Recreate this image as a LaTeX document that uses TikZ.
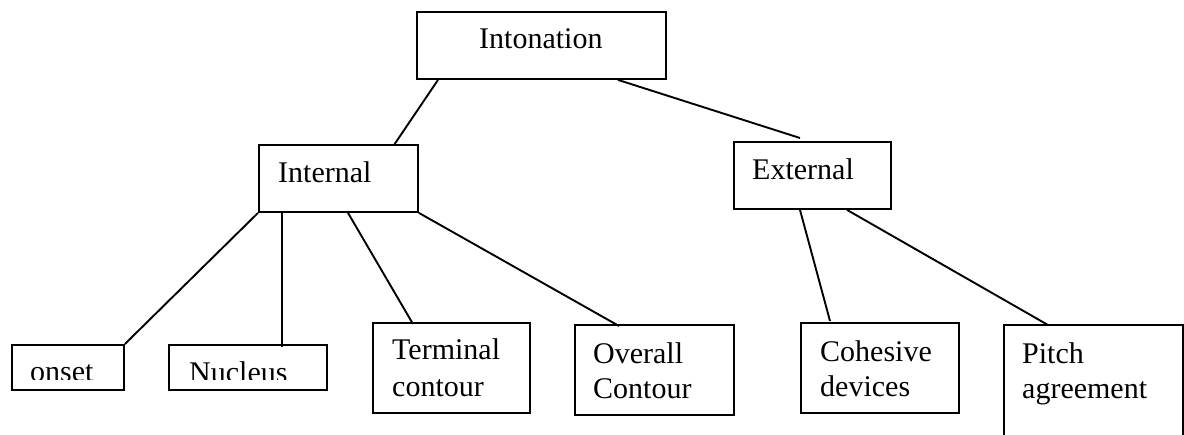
\documentclass[tikz,border=0pt]{standalone}
\usepackage{fontspec}
\setmainfont{Liberation Serif}
\begin{document}
\begin{tikzpicture}[x=1pt,y=-1pt,
  box/.style={draw, line width=1.9pt, inner sep=0pt, anchor=north west},
  lbl/.style={inner sep=0pt, anchor=base west, font=\fontsize{30}{36}\selectfont},
  conn/.style={line width=1.9pt}]
\useasboundingbox (0,0) rectangle (1184,434);
% boxes
\node[box, minimum width=249pt, minimum height=67pt] (ton) at (416,11) {};
\node[box, minimum width=159pt, minimum height=67pt] (int) at (258,144) {};
\node[box, minimum width=157pt, minimum height=67pt] (ext) at (733,141) {};
\node[box, minimum width=112pt, minimum height=45pt] (onset) at (11,344) {};
\node[box, minimum width=158pt, minimum height=45pt] (nuc) at (168,344) {};
\node[box, minimum width=157pt, minimum height=90pt] (term) at (372,322) {};
\node[box, minimum width=159pt, minimum height=90pt] (over) at (574,324) {};
\node[box, minimum width=158pt, minimum height=90pt] (coh) at (800,322) {};
\node[box, minimum width=179pt, minimum height=130pt] (pitch) at (1003,324) {};
% texts
\node[lbl] (tonT) at (479,48) {Intonation};
\node[lbl] (intT) at (278,182) {Internal};
\node[lbl] (extT) at (752,179) {External};
\begin{scope}
  \clip (0,0) rectangle (1184,379.5);
  \node[lbl] (onsetT) at (30,381) {onset};
  \node[lbl] (nucT) at (189,382) {Nucleus};
\end{scope}
\node[lbl] (termA) at (392,359) {Terminal};
\node[lbl] (termB) at (392,396) {contour};
\node[lbl] (overA) at (593,363) {Overall};
\node[lbl] (overB) at (593,398) {Contour};
\node[lbl] (cohA) at (820,361) {Cohesive};
\node[lbl] (cohB) at (820,396) {devices};
\node[lbl] (pitchA) at (1022,363) {Pitch};
\node[lbl] (pitchB) at (1022,398) {agreement};
% connectors
\draw[conn] ([xshift=22pt]ton.south west) -- ([xshift=136pt,yshift=-1pt]int.north west);
\draw[conn] ([xshift=202pt]ton.south west) -- ([xshift=67pt,yshift=3pt]ext.north west);
\draw[conn] (int.south west) -- (onset.north east);
\draw[conn] ([xshift=24pt]int.south west) -- ([xshift=114pt,yshift=-3pt]nuc.north west);
\draw[conn] ([xshift=90pt]int.south west) -- ([xshift=41pt,yshift=-2pt]term.north west);
\draw[conn] (int.south east) -- ([xshift=45pt,yshift=-2pt]over.north west);
\draw[conn] ([xshift=67pt]ext.south west) -- ([xshift=30pt,yshift=1pt]coh.north west);
\draw[conn] ([xshift=114pt]ext.south west) -- ([xshift=45pt,yshift=-1pt]pitch.north west);
\end{tikzpicture}
\end{document}
